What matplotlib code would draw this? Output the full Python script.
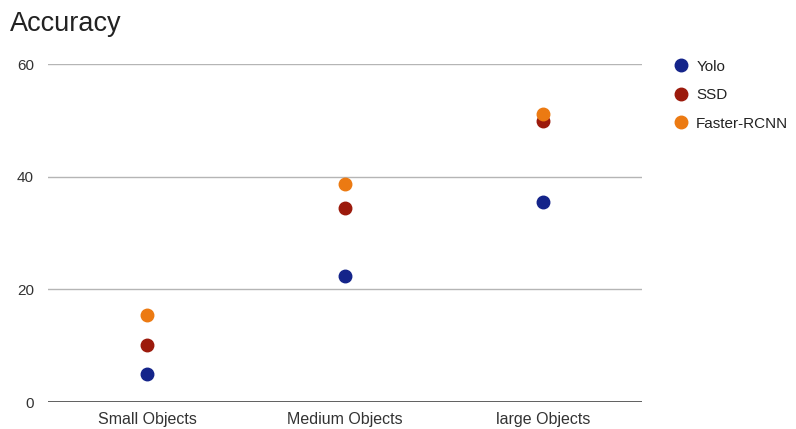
import matplotlib.pyplot as plt
import numpy as np

plt.rcParams['font.family'] = ['Liberation Sans', 'DejaVu Sans']

categories = ['Small Objects', 'Medium Objects', 'large Objects']
series = ['Yolo', 'SSD', 'Faster-RCNN']
yolo = [5.0, 22.4, 35.5]
ssd = [10.1, 34.5, 49.9]
faster_rcnn = [15.5, 38.7, 51.1]
yticks = [0, 20, 40, 60]

colors = ['#14248a', '#9c1a0c', '#ec7a12']

fig = plt.figure(figsize=(7.96, 4.29), dpi=100)
ax = fig.add_axes([48/796, 1-402/429, 594/796, 338/429])

x = np.arange(len(categories))
for vals, name, c in zip([yolo, ssd, faster_rcnn], series, colors):
    ax.plot(x, vals, 'o', color=c, markersize=9, markeredgecolor=c,
            label=name, zorder=3)

ax.set_xlim(-0.5, 2.5)
ax.set_ylim(0, 60)
ax.set_yticks(yticks)
ax.set_xticks(x)
ax.set_xticklabels(categories, fontsize=11.5, color='#333333')
ax.tick_params(axis='y', labelsize=11, labelcolor='#333333', length=0, pad=10)
ax.tick_params(axis='x', length=0, pad=7)
for s in ax.spines.values():
    s.set_visible(False)
for t in yticks[1:]:
    ax.axhline(t, color='#b5b5b5', lw=1, zorder=1)
ax.axhline(0, color='#444444', lw=1.2, zorder=2)

fig.text(10/796, 1-24/429, 'Accuracy', fontsize=19.5, color='#222222',
         va='center', ha='left')

leg = ax.legend(loc='upper left', bbox_to_anchor=(658/796, 1-46/429),
                bbox_transform=fig.transFigure, frameon=False,
                fontsize=11, handletextpad=0.4, labelspacing=0.95,
                markerscale=1.0, handlelength=1.2)
for t in leg.get_texts():
    t.set_color('#222222')

fig.savefig('out.png', dpi=100)
